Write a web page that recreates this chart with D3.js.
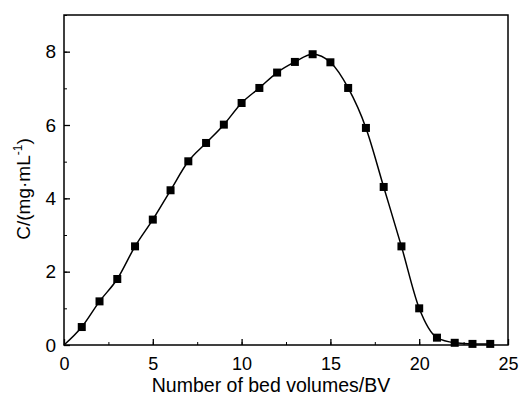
<!DOCTYPE html>
<html>
<head>
<meta charset="utf-8">
<script src="https://cdn.jsdelivr.net/npm/d3@7"></script>
<style>
  body { margin: 0; background: #fff; }
  text { font-family: "Liberation Sans", Arial, sans-serif; fill: #000; }
</style>
</head>
<body>
<div class="my-graph"></div>
<script>
// bed volumes (BV) and concentration (mg/mL)
const bedVolumes = [1, 2, 3, 4, 5, 6, 7, 8, 9, 10, 11, 12, 13, 14, 15, 16, 17, 18, 19, 20, 21, 22, 23, 24]
const concentration = [0.49, 1.19, 1.8, 2.69, 3.42, 4.22, 5.01, 5.51, 6.01, 6.6, 7.01, 7.43, 7.72, 7.93, 7.71, 7.01, 5.92, 4.31, 2.69, 1.0, 0.2, 0.06, 0.03, 0.03]
const xTicks = [0, 5, 10, 15, 20, 25]
const yTicks = [0, 2, 4, 6, 8]

const width = 520
const height = 395
const margin = { top: 15, right: 12, bottom: 50, left: 64 }

const points = bedVolumes.map((x, i) => ({ x: x, y: concentration[i] }))
// curve starts from the origin
const curvePts = [{ x: 0, y: 0 }].concat(points)

const xScale = d3.scaleLinear()
  .domain([0, 25])
  .range([margin.left, width - margin.right])

const yScale = d3.scaleLinear()
  .domain([0, 9])
  .range([height - margin.bottom, margin.top])

const svg = d3.select('.my-graph')
  .append('svg')
  .attr('width', width)
  .attr('height', height)

// frame
svg.append('rect')
  .attr('x', margin.left)
  .attr('y', margin.top)
  .attr('width', width - margin.left - margin.right)
  .attr('height', height - margin.top - margin.bottom)
  .attr('fill', 'none')
  .attr('stroke', '#000')
  .attr('stroke-width', 1.5)

// minor ticks
const xMinor = d3.range(0, 25.01, 2.5)
const yMinor = d3.range(0, 9.01, 1)

svg.append('g')
  .attr('transform', `translate(0, ${height - margin.bottom})`)
  .call(d3.axisBottom(xScale).tickValues(xMinor).tickSize(-3).tickFormat(''))
  .call(g => g.select('.domain').remove())

svg.append('g')
  .attr('transform', `translate(${margin.left}, 0)`)
  .call(d3.axisLeft(yScale).tickValues(yMinor).tickSize(-3).tickFormat(''))
  .call(g => g.select('.domain').remove())

// major ticks (pointing inward)
svg.append('g')
  .attr('class', 'x axis')
  .attr('transform', `translate(0, ${height - margin.bottom})`)
  .call(d3.axisBottom(xScale).tickValues(xTicks).tickSize(-6).tickPadding(12))
  .call(g => g.select('.domain').remove())
  .call(g => g.selectAll('line').attr('stroke-width', 1.3))
  .call(g => g.selectAll('text').attr('font-size', 18))

svg.append('g')
  .attr('class', 'y axis')
  .attr('transform', `translate(${margin.left}, 0)`)
  .call(d3.axisLeft(yScale).tickValues(yTicks).tickSize(-6).tickPadding(8))
  .call(g => g.select('.domain').remove())
  .call(g => g.selectAll('line').attr('stroke-width', 1.3))
  .call(g => g.selectAll('text').attr('font-size', 19))

// axis titles
svg.append('text')
  .attr('x', 271)
  .attr('y', 392)
  .attr('text-anchor', 'middle')
  .attr('font-size', 19.5)
  .text('Number of bed volumes/BV')

const yTitle = svg.append('text')
  .attr('transform', `translate(30, 189) rotate(-90)`)
  .attr('text-anchor', 'middle')
  .attr('font-size', 19)
yTitle.append('tspan').text('C/(mg·mL')
yTitle.append('tspan').attr('font-size', 12).attr('dy', -8).text('-1')
yTitle.append('tspan').attr('dy', 8).text(')')

const line = d3.line()
  .x(d => xScale(d.x))
  .y(d => yScale(d.y))
  .curve(d3.curveMonotoneX)

svg.append('path')
  .datum(curvePts)
  .attr('fill', 'none')
  .attr('stroke', '#000')
  .attr('stroke-width', 1.5)
  .attr('d', line)

const s = 8
svg.selectAll('.dot')
  .data(points)
  .enter().append('rect')
  .attr('class', 'dot')
  .attr('x', d => xScale(d.x) - s / 2)
  .attr('y', d => yScale(d.y) - s / 2)
  .attr('width', s)
  .attr('height', s)
  .attr('fill', '#000')
</script>
</body>
</html>
